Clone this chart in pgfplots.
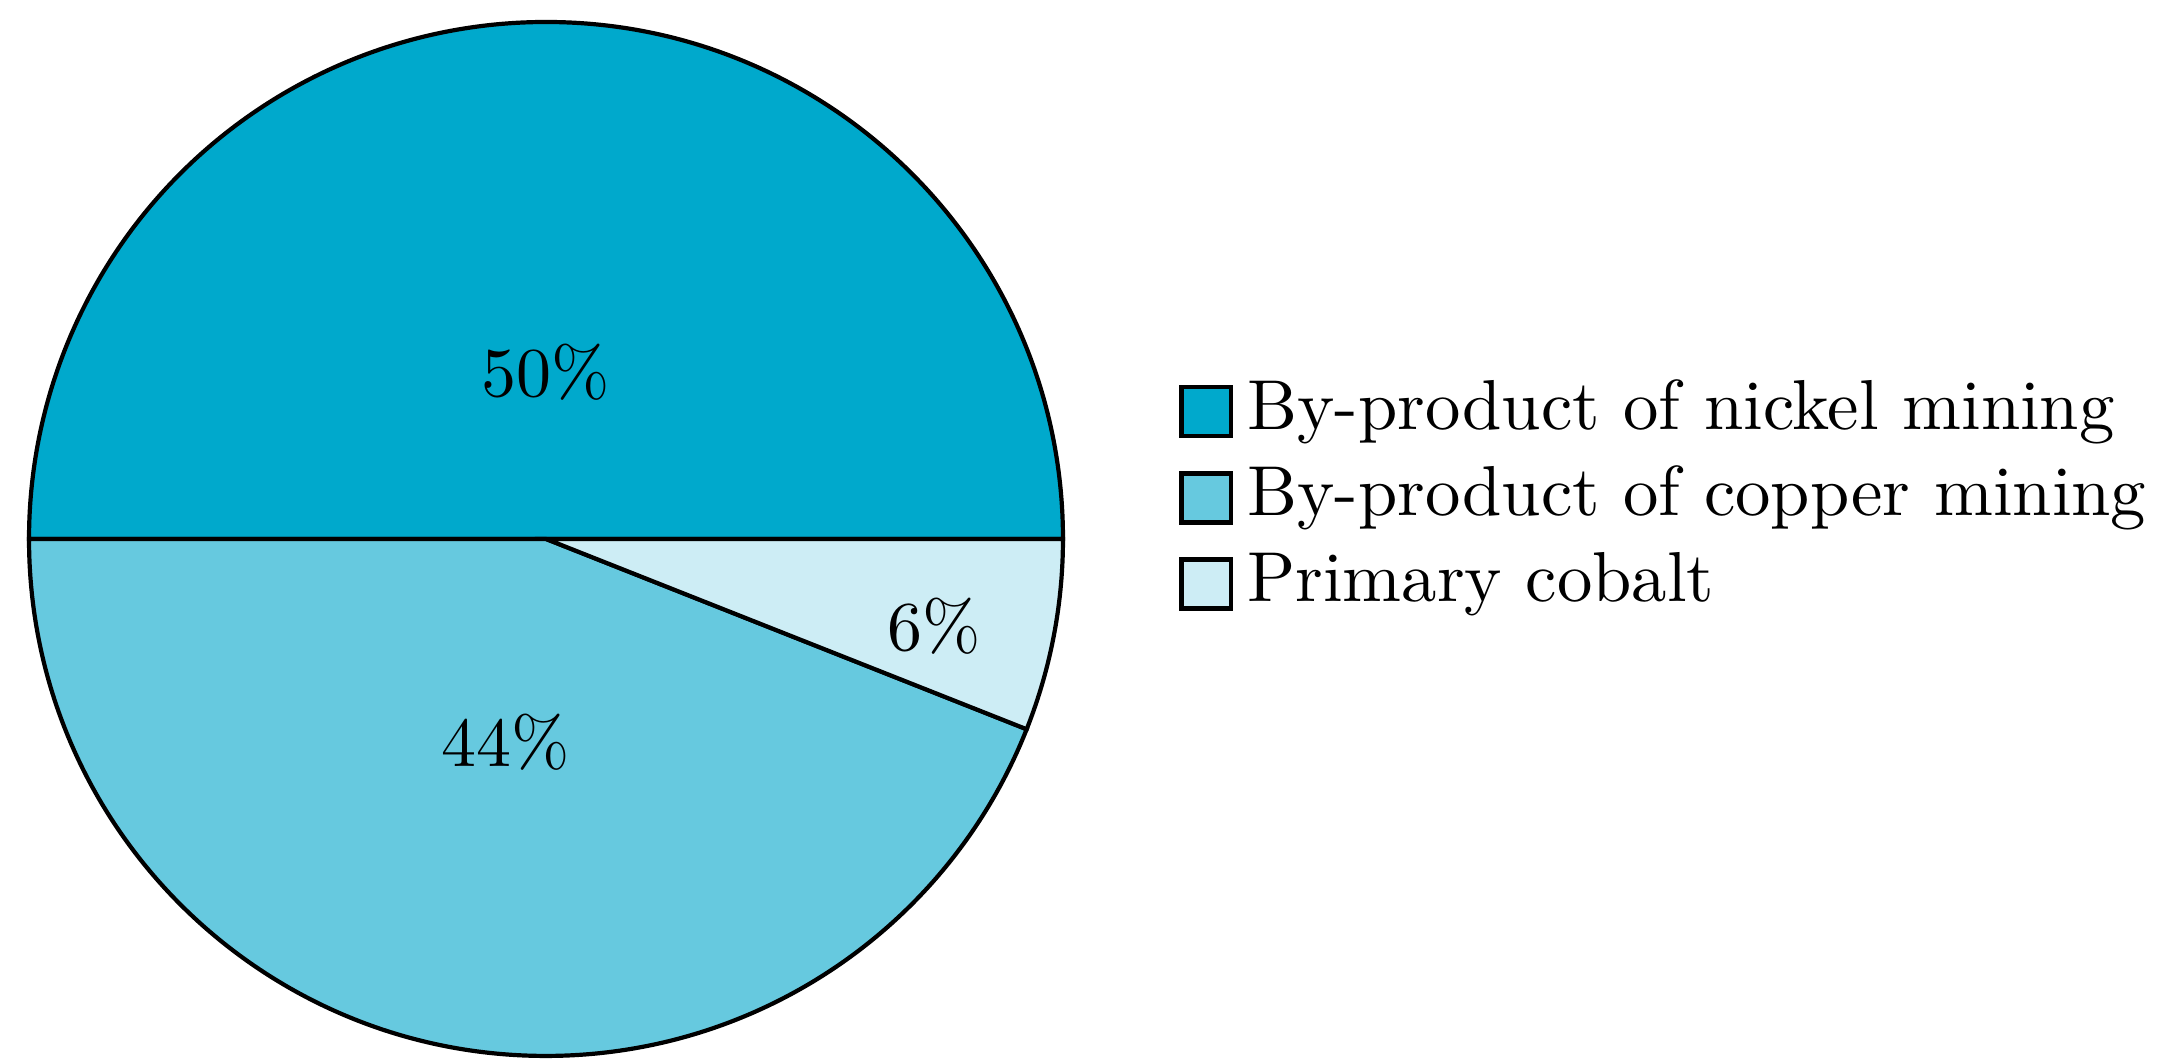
\documentclass[border=0pt]{standalone}
\usepackage{pgfplots}
\pgfplotsset{compat=1.18}
\definecolor{nickel}{RGB}{0,169,204}
\definecolor{copper}{RGB}{102,201,223}
\definecolor{primary}{RGB}{205,237,245}
% pie values (percent)
\def\vNickel{50}
\def\vCopper{44}
\def\vPrimary{6}
\pgfmathsetmacro{\pxpt}{309/2163}
\pgfmathsetmacro{\R}{517*\pxpt}
\pgfmathsetmacro{\aA}{0}
\pgfmathsetmacro{\aB}{\aA+3.6*\vNickel}
\pgfmathsetmacro{\aC}{\aB+3.6*\vCopper}
\pgfmathsetmacro{\aD}{\aC+3.6*\vPrimary}
\begin{document}
\begin{tikzpicture}
\begin{axis}[
  width=309pt, height=151.43pt, scale only axis, hide axis,
  xmin=0, xmax=2163, ymin=0, ymax=1060, clip=false,
  legend cell align=left,
  legend image code/.code={\draw[#1] (-2.4pt,-3.5pt) rectangle (4.7pt,3.5pt);},
  legend style={at={(axis cs:1178,562)}, anchor=west, draw=none, fill=none,
    row sep=0pt, font=\fontsize{10.1}{12}\selectfont, inner xsep=0pt,
    nodes={text height=6.9pt, text depth=2pt, inner ysep=1.7pt}},
]
\path (axis cs:0,0) rectangle (axis cs:2163,1060);
\addlegendimage{fill=nickel, draw=black, line width=0.6pt}
\addlegendentry{By-product of nickel mining}
\addlegendimage{fill=copper, draw=black, line width=0.6pt}
\addlegendentry{By-product of copper mining}
\addlegendimage{fill=primary, draw=black, line width=0.6pt}
\addlegendentry{Primary cobalt}
\filldraw[fill=nickel, draw=black, line width=0.6pt] (axis cs:546,521) -- ++(\aA:\R pt) arc[start angle=\aA, end angle=\aB, radius=\R pt] -- cycle;
\filldraw[fill=copper, draw=black, line width=0.6pt] (axis cs:546,521) -- ++(\aB:\R pt) arc[start angle=\aB, end angle=\aC, radius=\R pt] -- cycle;
\filldraw[fill=primary, draw=black, line width=0.6pt] (axis cs:546,521) -- ++(\aC:\R pt) arc[start angle=\aC, end angle=\aD, radius=\R pt] -- cycle;
\node at (axis cs:546,688) {50\%};
\node at (axis cs:506,318) {44\%};
\node at (axis cs:934,434) {6\%};
\end{axis}
\end{tikzpicture}
\end{document}
